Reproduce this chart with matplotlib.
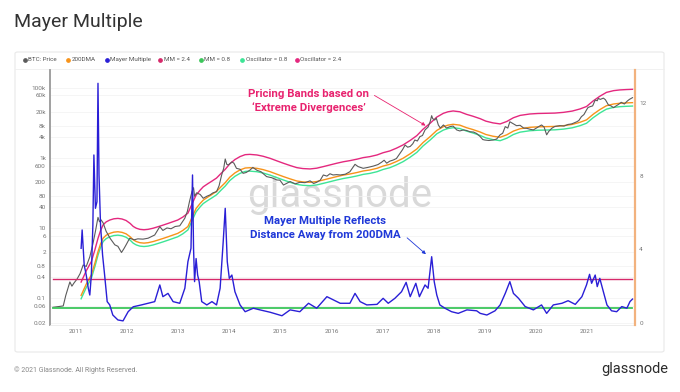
import numpy as np
import matplotlib.pyplot as plt
from matplotlib.patches import FancyBboxPatch
from matplotlib.lines import Line2D

plt.rcParams['font.family'] = ['Roboto', 'DejaVu Sans']

# BTC price (USD), x in decimal years
price_t = [2010.55, 2010.75, 2010.80, 2010.88, 2010.92, 2010.96, 2011.02, 2011.08, 2011.14, 2011.20,
           2011.27, 2011.33, 2011.38, 2011.43, 2011.46, 2011.49, 2011.53, 2011.59, 2011.67, 2011.76,
           2011.82, 2011.89, 2011.94, 2011.98, 2012.05, 2012.14, 2012.21, 2012.31, 2012.41, 2012.54,
           2012.64, 2012.70, 2012.78, 2012.86, 2012.94, 2013.03, 2013.13, 2013.18, 2013.22, 2013.27,
           2013.30, 2013.32, 2013.36, 2013.43, 2013.49, 2013.56, 2013.62, 2013.68, 2013.75, 2013.80,
           2013.85, 2013.89, 2013.92, 2013.95, 2013.98, 2014.05, 2014.09, 2014.14, 2014.21, 2014.27,
           2014.33, 2014.40, 2014.46, 2014.54, 2014.62, 2014.73, 2014.83, 2014.93, 2014.99, 2015.06,
           2015.12, 2015.19, 2015.29, 2015.38, 2015.48, 2015.58, 2015.65, 2015.71, 2015.78, 2015.84,
           2015.91, 2015.97, 2016.03, 2016.10, 2016.17, 2016.27, 2016.36, 2016.46, 2016.52, 2016.62,
           2016.71, 2016.82, 2016.91, 2016.98, 2017.03, 2017.08, 2017.14, 2017.21, 2017.27, 2017.34,
           2017.39, 2017.44, 2017.49, 2017.54, 2017.59, 2017.63, 2017.68, 2017.73, 2017.78, 2017.83,
           2017.89, 2017.93, 2017.96, 2017.98, 2018.02, 2018.05, 2018.09, 2018.13, 2018.19, 2018.25,
           2018.32, 2018.38, 2018.45, 2018.51, 2018.58, 2018.64, 2018.71, 2018.78, 2018.84, 2018.91,
           2018.96, 2019.00, 2019.08, 2019.16, 2019.23, 2019.30, 2019.35, 2019.40, 2019.45, 2019.49,
           2019.56, 2019.62, 2019.69, 2019.76, 2019.82, 2019.88, 2019.95, 2020.02, 2020.06, 2020.11,
           2020.16, 2020.21, 2020.25, 2020.31, 2020.37, 2020.47, 2020.55, 2020.63, 2020.70, 2020.80,
           2020.84, 2020.89, 2020.94, 2020.99, 2021.02, 2021.06, 2021.11, 2021.16, 2021.20, 2021.22,
           2021.26, 2021.32, 2021.36, 2021.42, 2021.47, 2021.52, 2021.57, 2021.62, 2021.67, 2021.73,
           2021.79, 2021.83, 2021.89]
price = [0.055, 0.06, 0.12, 0.29, 0.22, 0.27, 0.35, 0.5, 0.88, 0.8,
         1.5, 3.5, 8, 20, 15, 17, 14, 8, 5, 3.3,
         3.0, 2.0, 2.6, 3.3, 5.1, 4.6, 4.9, 4.8, 5.1, 6.3,
         10.9, 8.5, 10, 9.5, 11, 11.5, 19, 30, 56, 110,
         140, 80, 100, 90, 70, 80, 87, 100, 108, 160,
         323, 500, 922, 650, 620, 760, 700, 500, 470, 360,
         380, 440, 530, 440, 400, 290, 270, 233, 230, 167,
         185, 210, 180, 200, 195, 220, 185, 200, 230, 323,
         300, 350, 323, 330, 323, 340, 400, 650, 560, 500,
         530, 580, 640, 745, 850, 700, 800, 863, 950, 1340,
         1700, 2300, 2000, 2100, 2500, 3200, 3000, 4000, 4300, 6200,
         7500, 10600, 15800, 13000, 11900, 13500, 8600, 7000, 8600, 7000,
         7700, 8000, 6200, 5800, 6200, 6000, 5500, 5400, 4900, 4000,
         3300, 3200, 3100, 3200, 3400, 4500, 5000, 7700, 7000, 10600,
         9200, 8200, 8400, 7000, 6900, 6500, 6200, 7200, 7800, 8600,
         7500, 4500, 5600, 6900, 7800, 8200, 8000, 8900, 9200, 10600,
         11500, 14800, 17000, 23000, 27000, 28500, 30000, 44000, 42000, 49000,
         46000, 50000, 45000, 31700, 30000, 26700, 30000, 33400, 38000, 34000,
         41500, 46000, 51500]

# 200 day moving average
dma_t = [2011.10, 2011.20, 2011.30, 2011.37, 2011.43, 2011.48, 2011.53, 2011.59, 2011.66, 2011.74,
         2011.82, 2011.90, 2011.98, 2012.06, 2012.12, 2012.18, 2012.25, 2012.33, 2012.41, 2012.51,
         2012.60, 2012.70, 2012.80, 2012.90, 2012.99, 2013.09, 2013.19, 2013.27, 2013.35, 2013.43,
         2013.49, 2013.58, 2013.66, 2013.75, 2013.84, 2013.92, 2014.01, 2014.11, 2014.21, 2014.31,
         2014.40, 2014.54, 2014.66, 2014.80, 2014.93, 2015.06, 2015.19, 2015.32, 2015.44, 2015.58,
         2015.71, 2015.84, 2015.97, 2016.10, 2016.23, 2016.36, 2016.50, 2016.62, 2016.75, 2016.89,
         2017.01, 2017.14, 2017.27, 2017.40, 2017.54, 2017.67, 2017.79, 2017.93, 2018.06, 2018.19,
         2018.28, 2018.38, 2018.51, 2018.64, 2018.76, 2018.91, 2019.02, 2019.16, 2019.30, 2019.43,
         2019.56, 2019.69, 2019.88, 2020.04, 2020.21, 2020.37, 2020.54, 2020.71, 2020.86, 2020.99,
         2021.12, 2021.25, 2021.38, 2021.52, 2021.64, 2021.77, 2021.89]
dma = [0.12, 0.25, 0.46, 1.0, 2.1, 3.5, 5.1, 6.2, 7.0, 7.6,
       7.8, 7.5, 6.8, 5.6, 4.6, 4.1, 3.8, 3.7, 3.8, 4.1,
       4.5, 5.0, 5.6, 6.3, 7.0, 8.5, 11, 20, 36, 50,
       62, 76, 90, 110, 150, 195, 280, 370, 450, 510,
       520, 500, 460, 400, 340, 290, 250, 218, 205, 200,
       210, 233, 260, 290, 320, 345, 380, 420, 448, 500,
       580, 650, 780, 966, 1300, 1780, 2700, 4000, 6000, 7700,
       8500, 8970, 8500, 7200, 6400, 5400, 4600, 4100, 3830, 4500,
       5750, 6700, 7350, 7600, 7700, 7800, 8180, 8900, 10200, 12000,
       17300, 23500, 30300, 34000, 35600, 36500, 37100]

# Mayer Multiple (right axis)
mm_t = [2011.10, 2011.12, 2011.16, 2011.20, 2011.24, 2011.27, 2011.30, 2011.33, 2011.35, 2011.38,
        2011.41, 2011.43, 2011.45, 2011.48, 2011.52, 2011.56, 2011.61, 2011.66, 2011.72, 2011.82,
        2011.92, 2012.02, 2012.12, 2012.28, 2012.41, 2012.54, 2012.64, 2012.70, 2012.80, 2012.90,
        2013.03, 2013.13, 2013.19, 2013.25, 2013.28, 2013.30, 2013.32, 2013.35, 2013.38, 2013.41,
        2013.46, 2013.56, 2013.66, 2013.75, 2013.82, 2013.88, 2013.92, 2013.96, 2014.00, 2014.05,
        2014.11, 2014.21, 2014.31, 2014.47, 2014.60, 2014.80, 2015.03, 2015.19, 2015.38, 2015.55,
        2015.71, 2015.91, 2016.04, 2016.17, 2016.36, 2016.46, 2016.56, 2016.69, 2016.89, 2017.01,
        2017.11, 2017.24, 2017.37, 2017.46, 2017.54, 2017.65, 2017.72, 2017.83, 2017.89, 2017.96,
        2018.01, 2018.06, 2018.12, 2018.22, 2018.35, 2018.48, 2018.65, 2018.84, 2018.91, 2019.04,
        2019.20, 2019.30, 2019.40, 2019.49, 2019.56, 2019.66, 2019.79, 2019.95, 2020.11, 2020.21,
        2020.34, 2020.51, 2020.63, 2020.77, 2020.90, 2020.99, 2021.05, 2021.09, 2021.16, 2021.20,
        2021.25, 2021.32, 2021.39, 2021.48, 2021.58, 2021.68, 2021.78, 2021.84, 2021.89]
mm = [4.06, 5.06, 3.15, 2.6, 1.88, 1.51, 2.6, 5.33, 9.15, 6.24,
      6.6, 13.06, 8.06, 5.33, 3.69, 2.6, 1.15, 0.97, 0.42, 0.15,
      0.1, 0.6, 0.87, 0.97, 1.06, 1.15, 2.06, 1.42, 1.6, 1.15,
      1.06, 1.88, 3.33, 4.06, 8.06, 4.06, 2.24, 3.5, 2.6, 2.24,
      1.15, 0.97, 1.15, 0.97, 1.88, 4.4, 6.24, 3.33, 2.42, 2.6,
      1.69, 0.97, 0.6, 0.79, 0.7, 0.57, 0.38, 0.7, 0.6, 1.06,
      0.79, 1.42, 1.24, 1.06, 1.06, 1.6, 1.15, 0.97, 1.0, 1.33,
      1.06, 1.33, 1.69, 2.2, 1.42, 2.15, 1.42, 2.06, 1.88, 3.6,
      2.24, 1.51, 0.97, 0.79, 0.6, 0.51, 0.7, 0.65, 0.51, 0.42,
      0.65, 0.97, 1.6, 2.24, 1.6, 1.33, 0.88, 0.7, 0.97, 0.51,
      0.97, 1.06, 1.2, 1.0, 1.42, 2.06, 2.64, 2.15, 2.6, 1.97,
      2.42, 1.69, 0.97, 0.65, 0.6, 0.88, 0.79, 1.15, 1.29]

mm_high = 2.4
mm_low = 0.8

left_ticks = [0.02, 0.06, 0.1, 0.4, 0.8, 2, 6, 10, 40, 80, 200, 600,
              1000, 4000, 8000, 20000, 60000, 100000]
left_labels = ['0.02', '0.06', '0.1', '0.4', '0.8', '2', '6', '10', '40', '80', '200', '600',
               '1k', '4k', '8k', '20k', '60k', '100k']
right_ticks = [0, 4, 8, 12]
years = list(range(2011, 2022))

legend_labels = ['BTC: Price', '200DMA', 'Mayer Multiple', 'MM = 2.4', 'MM = 0.8',
                 'Oscillator = 0.8', 'Oscillator = 2.4']

c_price = '#5b5b5b'
c_dma = '#f7931a'
c_mm = '#2a1fd6'
c_high = '#d6296a'
c_low = '#3cc65a'
c_osc_low = '#3de596'
c_osc_high = '#e4287e'
legend_colors = [c_price, c_dma, c_mm, c_high, c_low, c_osc_low, c_osc_high]

W, H = 680, 392
fx = lambda px: px / W
fy = lambda py: 1 - py / H

fig = plt.figure(figsize=(6.8, 3.92), dpi=100)
fig.patch.set_facecolor('white')

# card behind the axes
card = FancyBboxPatch((fx(15), fy(352)), fx(649), 300 / H,
                      boxstyle='round,pad=0,rounding_size=0.004',
                      transform=fig.transFigure, fc='white', ec='#e8e8e8', lw=0.8, zorder=-10)
fig.patches.append(card)
fig.add_artist(Line2D([fx(15), fx(664)], [fy(69), fy(69)], color='#efefef', lw=0.6, zorder=-5))

fig.text(fx(14), fy(22), 'Mayer Multiple', fontsize=14, color='#333333', va='center')

# legend
dots = [25, 68, 107, 160, 201, 242, 297]
for x, lab, c in zip(dots, legend_labels, legend_colors):
    fig.add_artist(Line2D([fx(x)], [fy(59.5)], marker='o', ms=2.4, color=c, lw=0))
    fig.text(fx(x + 3.5), fy(59.5), lab, fontsize=4.5, color='#555555', va='center')

ax = fig.add_axes([fx(50), fy(325), 585 / W, 255 / H])
ax.patch.set_alpha(0)
ax.set_yscale('log')
ax.set_ylim(0.0172, 316000)
ax.set_xlim(2010.491, 2021.939)
ax.set_yticks(left_ticks)
ax.set_yticklabels(left_labels)
ax.minorticks_off()
ax.set_xticks(years)
ax.set_xticklabels([str(y) for y in years])
ax.tick_params(axis='both', length=0, labelsize=4.6, labelcolor='#777777', pad=3)
ax.grid(axis='y', color='#f2f2f2', lw=0.5)
for s in ['top', 'right']:
    ax.spines[s].set_visible(False)
ax.spines['bottom'].set_color('#eaeaea')
ax.spines['bottom'].set_linewidth(0.6)
ax.spines['left'].set_color('#999999')
ax.spines['left'].set_linewidth(1.3)

# watermark
ax.text(fx(340), fy(207), 'glassnode', fontsize=29, color='#d9d9d9', ha='center',
        va='baseline', transform=fig.transFigure, zorder=0)

dma_arr = np.array(dma)
ax.plot(dma_t, dma_arr * mm_low, color=c_osc_low, lw=1.0, zorder=2)
ax.plot(dma_t, dma_arr, color=c_dma, lw=1.0, zorder=3)
ax.plot(dma_t, dma_arr * mm_high, color=c_osc_high, lw=1.0, zorder=2)
ax.plot(price_t, price, color=c_price, lw=0.8, zorder=4)

ax2 = ax.twinx()
ax2.set_ylim(-0.125, 13.786)
ax2.set_yticks(right_ticks)
ax2.tick_params(axis='y', length=0, labelsize=4.6, labelcolor='#777777', pad=3)
for s in ['top', 'left', 'bottom']:
    ax2.spines[s].set_visible(False)
ax2.spines['right'].set_color('#f2b27e')
ax2.spines['right'].set_linewidth(1.6)
t0, t1 = price_t[0], price_t[-1]
ax2.plot([t0, t1], [mm_high, mm_high], color=c_high, lw=1.0, zorder=1)
ax2.plot([t0, t1], [mm_low, mm_low], color=c_low, lw=1.3, zorder=1)
ax2.plot(mm_t, mm, color=c_mm, lw=1.0, zorder=3)

# annotations
pink_txt = '#e8236f'
blue_txt = '#1f38d8'
fig.text(fx(309), fy(94), 'Pricing Bands based on', fontsize=8.2, fontweight='bold',
         color=pink_txt, ha='center', va='center')
fig.text(fx(309), fy(108), '\u2018Extreme Divergences\u2019', fontsize=8.2, fontweight='bold',
         color=pink_txt, ha='center', va='center')
ax.annotate('', xy=(fx(428), fy(127)), xytext=(fx(372), fy(94)),
            xycoords='figure fraction', textcoords='figure fraction',
            arrowprops=dict(arrowstyle='-|>', color=pink_txt, lw=0.6, mutation_scale=5))
fig.text(fx(325), fy(221), 'Mayer Multiple Reflects', fontsize=8.2, fontweight='bold',
         color=blue_txt, ha='center', va='center')
fig.text(fx(325), fy(235), 'Distance Away from 200DMA', fontsize=8.2, fontweight='bold',
         color=blue_txt, ha='center', va='center')
ax.annotate('', xy=(fx(428), fy(256)), xytext=(fx(405), fy(236)),
            xycoords='figure fraction', textcoords='figure fraction',
            arrowprops=dict(arrowstyle='-|>', color=blue_txt, lw=0.6, mutation_scale=5))

fig.text(fx(14), fy(370), '\u00a9 2021 Glassnode. All Rights Reserved.', fontsize=5,
         color='#888888', va='center')
fig.text(fx(668), fy(369), 'glassnode', fontsize=10.5, color='#2b2b2b', va='center', ha='right')

fig.savefig('out.png', dpi=100)
